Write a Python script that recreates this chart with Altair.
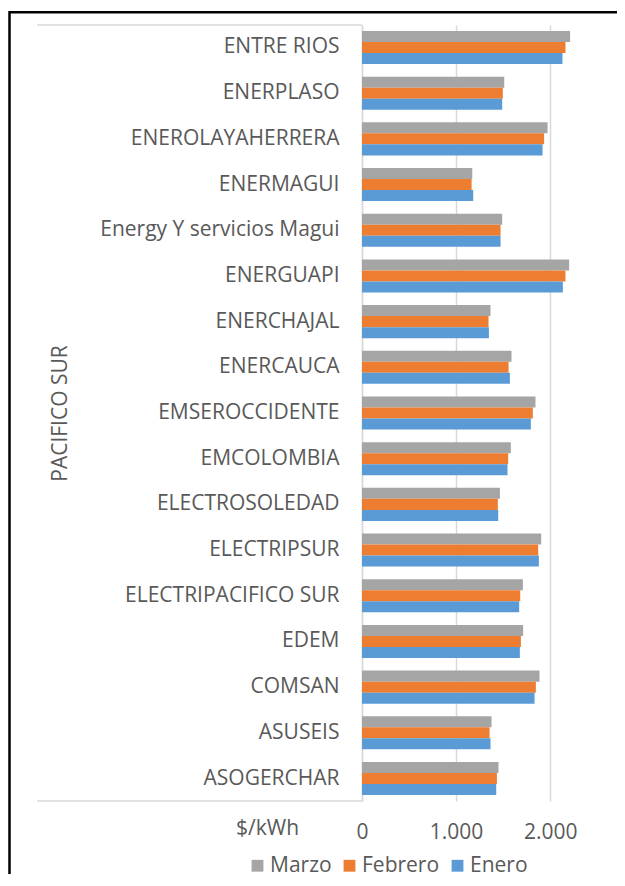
import altair as alt
import pandas as pd

categories = [
    "ENTRE RIOS", "ENERPLASO", "ENEROLAYAHERRERA", "ENERMAGUI",
    "Energy Y servicios Magui\u00a0", "ENERGUAPI", "ENERCHAJAL", "ENERCAUCA",
    "EMSEROCCIDENTE", "EMCOLOMBIA", "ELECTROSOLEDAD", "ELECTRIPSUR\u00a0",
    "ELECTRIPACIFICO SUR\u00a0", "EDEM", "COMSAN", "ASUSEIS", "ASOGERCHAR",
]
series = ["Marzo", "Febrero", "Enero"]
marzo = [2212, 1512, 1972, 1172, 1490, 2202, 1366, 1589, 1844, 1582, 1466, 1905, 1710, 1713, 1887, 1377, 1451]
febrero = [2163, 1497, 1936, 1165, 1473, 2163, 1345, 1558, 1816, 1554, 1444, 1873, 1682, 1689, 1848, 1356, 1434]
enero = [2131, 1490, 1919, 1182, 1473, 2135, 1349, 1572, 1795, 1547, 1448, 1880, 1671, 1678, 1834, 1366, 1427]
colors = ["#A5A5A5", "#ED7D31", "#5B9BD5"]
x_ticks = [0, 1000, 2000]

rows = []
for name, vals in zip(series, [marzo, febrero, enero]):
    for c, v in zip(categories, vals):
        rows.append({"empresa": c, "mes": name, "valor": v})
df = pd.DataFrame(rows)

W = 254
H = 776
FONT = "Open Sans"
TXT = "#595959"
FS = 21

bars = alt.Chart(df).mark_bar().encode(
    y=alt.Y("empresa:N", sort=categories,
            scale=alt.Scale(paddingInner=0.276, paddingOuter=0.13),
            axis=alt.Axis(title="PACIFICO SUR", labelAlign="right", labelBaseline="middle",
                          labelPadding=23, ticks=False, tickSize=0, domain=True,
                          domainColor="#D9D9D9", domainWidth=1.5, grid=False,
                          titleX=-302, titleY=388, titleAngle=270, titleAlign="center",
                          titleBaseline="middle", labelLimit=400)),
    yOffset=alt.YOffset("mes:N", scale=alt.Scale(domain=series, paddingInner=0)),
    x=alt.X("valor:Q", scale=alt.Scale(domain=[0, 2700], nice=False),
            axis=alt.Axis(title="$/kWh", values=x_ticks, domain=False, ticks=False, tickSize=0,
                          grid=True, gridColor="#D9D9D9", gridWidth=1.5,
                          labelExpr="replace(format(datum.value, ','), ',', '.')",
                          labelBaseline="middle", labelPadding=31, labelFlush=False,
                          titleX=-95, titleY=27, titleAlign="center", titleBaseline="middle")),
    color=alt.Color("mes:N", scale=alt.Scale(domain=series, range=colors),
                    legend=alt.Legend(title=None, orient="none", direction="horizontal",
                                      legendX=-115, legendY=830, symbolType="square",
                                      symbolSize=140, symbolStrokeWidth=0, labelOffset=2,
                                      columnPadding=7, padding=0)),
)

one = pd.DataFrame({"k": [0]})
top_line = alt.Chart(one).mark_rule(color="#D9D9D9", strokeWidth=1.5).encode(
    x=alt.value(-325), x2=alt.value(0), y=alt.value(0))
bottom_line = alt.Chart(one).mark_rule(color="#D9D9D9", strokeWidth=1.5).encode(
    x=alt.value(-325), x2=alt.value(0), y=alt.value(H))
frame = alt.Chart(one).mark_rect(filled=False, color="#000000", strokeWidth=2.5).encode(
    x=alt.value(-352.5), x2=alt.value(W + 120), y=alt.value(-12.7), y2=alt.value(H + 160))

chart = alt.layer(frame, top_line, bottom_line, bars).properties(
    width=W, height=H,
    autosize=alt.AutoSizeParams(type="none"),
    padding={"left": 354, "top": 17, "right": 1, "bottom": 73},
).configure_view(stroke=None).configure_axis(
    labelFont=FONT, labelFontSize=FS, labelColor=TXT,
    titleFont=FONT, titleFontSize=FS, titleColor=TXT, titleFontWeight="normal",
).configure_legend(labelFont=FONT, labelFontSize=FS, labelColor=TXT)

chart.save("out.html", embed_options={"renderer": "svg", "actions": False})
